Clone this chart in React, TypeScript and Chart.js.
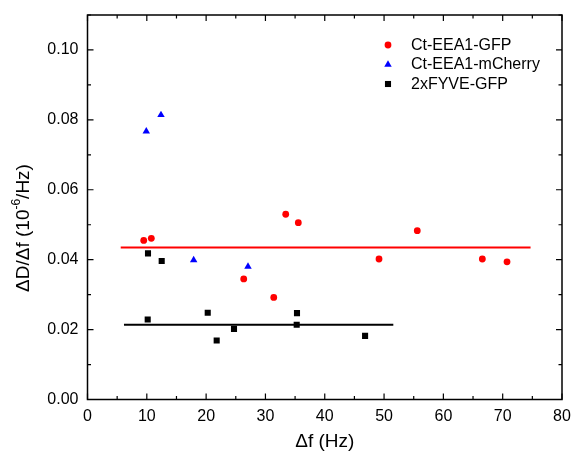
import React, { useEffect, useRef } from "react";
import { Chart, registerables } from "chart.js";
Chart.register(...registerables);

const gfpX = [9.48, 10.76, 26.34, 31.4, 33.42, 35.54, 49.15, 55.6, 66.57, 70.73];
const gfpY = [0.0455, 0.0461, 0.0345, 0.0292, 0.053, 0.0506, 0.0402, 0.0483, 0.0402, 0.0394];
const cherryX = [9.91, 12.39, 17.9, 27.06];
const cherryY = [0.0767, 0.0814, 0.0399, 0.038];
const fyveX = [10.2, 12.51, 10.15, 20.27, 21.78, 24.7, 35.32, 35.27, 46.8];
const fyveY = [0.0418, 0.0396, 0.0229, 0.0248, 0.0169, 0.0202, 0.0247, 0.0214, 0.0182];
const gfpFitX = [5.6, 74.7];
const gfpFitY = [0.0435, 0.0435];
const fyveFitX = [6.15, 51.56];
const fyveFitY = [0.0214, 0.0214];

const xMajor = [0, 10, 20, 30, 40, 50, 60, 70, 80];
const xMinor = [5, 15, 25, 35, 45, 55, 65, 75];
const yMajor = [0, 0.02, 0.04, 0.06, 0.08, 0.1];
const yMinor = [0.01, 0.03, 0.05, 0.07, 0.09, 0.11];

const seriesNames = ["Ct-EEA1-GFP", "Ct-EEA1-mCherry", "2xFYVE-GFP"];
const FONT = "'Liberation Sans', Arial, sans-serif";

const zip = (xs: number[], ys: number[]) => xs.map((x, i) => ({ x, y: ys[i] }));

function drawMarker(ctx: CanvasRenderingContext2D, style: string, r: number, x: number, y: number, color: string) {
  ctx.fillStyle = color;
  ctx.beginPath();
  if (style === "circle") {
    ctx.arc(x, y, r, 0, Math.PI * 2);
  } else if (style === "triangle") {
    ctx.moveTo(x, y - r);
    ctx.lineTo(x + r * Math.sin(Math.PI / 3), y + r / 2);
    ctx.lineTo(x - r * Math.sin(Math.PI / 3), y + r / 2);
    ctx.closePath();
  } else {
    const s = r * Math.SQRT1_2;
    ctx.rect(x - s, y - s, 2 * s, 2 * s);
  }
  ctx.fill();
}

const framePlugin = {
  id: "frame",
  afterDraw(chart: any) {
    const { ctx, chartArea: a, scales } = chart;
    const xs = scales.x;
    const ys = scales.y;
    ctx.save();
    ctx.strokeStyle = "#000";
    ctx.lineWidth = 1.5;
    ctx.strokeRect(a.left, a.top, a.right - a.left, a.bottom - a.top);
    ctx.lineWidth = 1.2;
    const tick = (vals: number[], len: number) => {
      vals.forEach((v) => {
        const px = xs.getPixelForValue(v);
        ctx.beginPath();
        ctx.moveTo(px, a.bottom);
        ctx.lineTo(px, a.bottom - len);
        ctx.moveTo(px, a.top);
        ctx.lineTo(px, a.top + len);
        ctx.stroke();
      });
    };
    const ytick = (vals: number[], len: number) => {
      vals.forEach((v) => {
        const py = ys.getPixelForValue(v);
        ctx.beginPath();
        ctx.moveTo(a.left, py);
        ctx.lineTo(a.left + len, py);
        ctx.moveTo(a.right, py);
        ctx.lineTo(a.right - len, py);
        ctx.stroke();
      });
    };
    tick(xMajor, 6);
    tick(xMinor, 3.5);
    ytick(yMajor, 6);
    ytick(yMinor, 3.5);

    // y title with superscript
    ctx.fillStyle = "#000";
    ctx.translate(24, 228);
    ctx.rotate(-Math.PI / 2);
    const big = `19px ${FONT}`;
    const small = `12px ${FONT}`;
    const p1 = "\u0394D/\u0394f (10";
    const p2 = "-6";
    const p3 = "/Hz)";
    ctx.font = big;
    const w1 = ctx.measureText(p1).width;
    const w3 = ctx.measureText(p3).width;
    ctx.font = small;
    const w2 = ctx.measureText(p2).width;
    const total = w1 + w2 + w3;
    const x0 = -total / 2;
    ctx.textBaseline = "middle";
    ctx.textAlign = "left";
    ctx.font = big;
    ctx.fillText(p1, x0, 0);
    ctx.font = small;
    ctx.fillText(p2, x0 + w1, -7);
    ctx.font = big;
    ctx.fillText(p3, x0 + w1 + w2, 0);
    ctx.restore();

    // legend
    ctx.save();
    ctx.font = `16px ${FONT}`;
    ctx.textBaseline = "middle";
    const rows = [45, 64.5, 84];
    chart.data.datasets.slice(0, 3).forEach((ds: any, i: number) => {
      drawMarker(ctx, ds.pointStyle, ds.pointRadius, 388, rows[i], ds.backgroundColor);
      ctx.fillStyle = "#000";
      ctx.fillText(ds.label, 411, rows[i] + 0.5);
    });
    ctx.restore();
  },
};

export default function App() {
  const ref = useRef<HTMLCanvasElement>(null);
  useEffect(() => {
    if (!ref.current) return;
    const chart = new Chart(ref.current, {
      type: "scatter",
      data: {
        datasets: [
          { label: seriesNames[0], data: zip(gfpX, gfpY), pointStyle: "circle", pointRadius: 3.4, backgroundColor: "#ff0000", borderColor: "#ff0000", borderWidth: 0, order: 1 },
          { label: seriesNames[1], data: zip(cherryX, cherryY), pointStyle: "triangle", pointRadius: 4.3, backgroundColor: "#0000ff", borderColor: "#0000ff", borderWidth: 0, order: 1 },
          { label: seriesNames[2], data: zip(fyveX, fyveY), pointStyle: "rect", pointRadius: 4.3, backgroundColor: "#000000", borderColor: "#000000", borderWidth: 0, order: 1 },
          { type: "line", label: "fit1", data: zip(gfpFitX, gfpFitY), borderColor: "#ff0000", borderWidth: 2, pointRadius: 0, showLine: true, order: 5 } as any,
          { type: "line", label: "fit2", data: zip(fyveFitX, fyveFitY), borderColor: "#000000", borderWidth: 2, pointRadius: 0, showLine: true, order: 5 } as any,
        ],
      },
      options: {
        animation: false,
        responsive: false,
        maintainAspectRatio: false,
        layout: { padding: { top: 15, right: 10, left: 0, bottom: 0 } },
        plugins: { legend: { display: false }, tooltip: { enabled: false } },
        scales: {
          x: {
            type: "linear",
            min: 0,
            max: 80,
            afterBuildTicks: (s: any) => { s.ticks = xMajor.map((v) => ({ value: v })); },
            afterFit: (s: any) => { s.height = 59.5; s.paddingLeft = 0; s.paddingRight = 0; },
            ticks: { color: "#000", font: { family: FONT, size: 16 }, padding: 7, maxRotation: 0, autoSkip: false },
            grid: { display: false, drawTicks: false },
            border: { display: false },
            title: { display: true, text: "\u0394f (Hz)", color: "#000", font: { family: FONT, size: 19 }, padding: { top: 0, bottom: 6 } },
          },
          y: {
            type: "linear",
            min: 0,
            max: 0.11,
            afterBuildTicks: (s: any) => { s.ticks = yMajor.map((v) => ({ value: v })); },
            afterFit: (s: any) => { s.width = 87.5; s.paddingTop = 0; s.paddingBottom = 0; },
            ticks: { color: "#000", font: { family: FONT, size: 16 }, padding: 9, callback: (v: any) => Number(v).toFixed(2) },
            grid: { display: false, drawTicks: false },
            border: { display: false },
          },
        },
      },
      plugins: [framePlugin],
    });
    return () => chart.destroy();
  }, []);
  return (
    <div style={{ position: "fixed", left: 0, top: 0, width: 572, height: 459, background: "#fff" }}>
      <canvas ref={ref} width={572} height={459} />
    </div>
  );
}
